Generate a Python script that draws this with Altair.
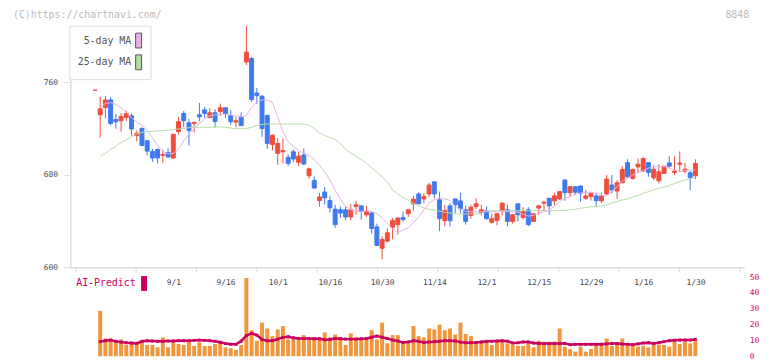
import json
import altair as alt
import pandas as pd

# ---------------- data ----------------
OPEN = [753, 731.8, 738.0, 744.6, 727.7, 726.6, 729.4, 730.9, 713.8, 720.0,
        709.3, 700.1, 701.8, 696.7, 699.2, 694.4, 717.2, 732.9, 724.9, 724.3,
        731.8, 736.0, 729.4, 733.5, 734.6, 737.8, 730.9, 725.5, 730.0, 777.4,
        780.5, 750.6, 747.8, 731.2, 706.1, 698.4, 699.8, 695.0, 699.8, 690.7,
        697.0, 679.0, 675.0, 657.6, 665.0, 657.6, 650.2, 649.6, 649.6, 643.4,
        652.4, 653.0, 645.3, 646.8, 634.8, 616.3, 622.5, 634.5, 636.8, 643.0,
        646.2, 654.8, 663.3, 659.0, 663.3, 673.8, 658.2, 640.2, 653.0, 659.0,
        657.3, 649.6, 644.7, 652.4, 647.3, 648.8, 638.8, 640.5, 648.8, 649.6,
        639.6, 654.8, 643.0, 649.6, 639.6, 651.1, 655.4, 659.6, 657.3, 659.0,
        675.3, 664.4, 669.6, 670.2, 659.6, 661.0, 661.6, 657.3, 663.3, 671.0,
        665.9, 673.0, 690.4, 676.7, 686.7, 683.2, 690.4, 677.3, 674.7, 681.0,
        690.1, 681.9, 689.0, 683.0, 681.6, 679.0]
HIGH = [753, 747.4, 748.0, 747.2, 732.6, 733.2, 735.2, 732.9, 718.1, 720.9,
        710.1, 702.4, 702.7, 701.6, 702.9, 715.2, 730.0, 735.2, 728.1, 726.0,
        742.0, 738.6, 737.5, 736.6, 741.4, 738.6, 735.8, 730.0, 733.8, 808.8,
        782.0, 754.9, 748.9, 732.0, 714.7, 711.2, 711.2, 697.5, 701.8, 699.8,
        702.7, 686.2, 678.5, 664.2, 669.3, 661.3, 653.9, 652.4, 652.4, 654.8,
        657.3, 653.0, 653.0, 648.2, 637.6, 626.8, 633.4, 642.5, 643.0, 648.2,
        649.6, 661.6, 664.8, 663.9, 673.0, 673.8, 665.3, 653.9, 655.4, 659.0,
        664.4, 653.0, 653.9, 659.6, 653.9, 652.4, 646.2, 646.2, 655.9, 653.9,
        645.3, 654.8, 651.9, 651.9, 646.8, 653.9, 657.3, 659.6, 664.4, 665.3,
        676.2, 670.2, 669.6, 670.2, 666.7, 665.3, 663.9, 663.9, 679.6, 679.6,
        675.3, 687.3, 693.3, 685.3, 693.9, 695.2, 690.4, 688.1, 689.0, 687.3,
        695.8, 695.8, 700.1, 690.1, 683.2, 693.3]
LOW = [753, 712.1, 728.6, 722.4, 719.8, 717.2, 726.6, 713.8, 708.9, 704.4,
       696.7, 690.9, 689.6, 690.1, 695.2, 693.5, 714.7, 720.9, 705.2, 716.6,
       726.0, 728.9, 728.9, 720.9, 730.9, 728.9, 723.2, 720.9, 722.4, 774.8,
       742.6, 741.2, 712.7, 702.1, 701.2, 688.4, 689.8, 687.6, 690.7, 687.6,
       688.4, 676.4, 668.4, 652.2, 654.2, 647.1, 634.0, 642.5, 640.5, 640.5,
       645.3, 641.1, 643.4, 629.1, 618.8, 606.8, 621.4, 624.0, 628.2, 639.6,
       643.4, 648.8, 654.8, 655.4, 660.5, 659.6, 631.1, 635.3, 635.3, 646.8,
       646.8, 636.8, 641.9, 650.2, 644.7, 641.1, 637.6, 636.2, 644.7, 635.3,
       637.6, 639.6, 641.1, 635.3, 639.6, 645.3, 648.2, 645.3, 653.0, 658.2,
       657.3, 661.0, 662.5, 656.7, 658.2, 657.6, 653.0, 655.4, 662.5, 663.9,
       659.0, 672.5, 676.7, 675.9, 681.9, 682.4, 678.1, 675.3, 672.5, 681.0,
       686.2, 679.6, 682.4, 681.0, 666.7, 675.9]
CLOSE = [753, 736.9, 744.6, 724.3, 725.8, 730.3, 732.9, 719.5, 715.8, 705.2,
         700.4, 694.4, 694.4, 697.5, 695.2, 714.9, 725.8, 726.6, 718.1, 725.2,
         730.0, 732.9, 733.5, 726.0, 737.8, 732.9, 725.8, 726.6, 722.4, 785.9,
         744.9, 748.3, 719.8, 707.0, 714.1, 707.0, 701.0, 689.8, 693.5, 696.1,
         689.2, 685.0, 668.4, 660.7, 659.9, 651.3, 636.8, 646.8, 643.4, 649.6,
         653.9, 648.2, 648.2, 633.4, 618.8, 624.0, 629.7, 640.2, 642.5, 641.1,
         649.6, 658.8, 654.8, 661.0, 671.0, 663.3, 641.9, 649.0, 640.2, 653.9,
         650.5, 639.6, 651.9, 654.8, 649.6, 641.9, 641.9, 646.2, 655.4, 639.6,
         645.3, 645.3, 648.2, 636.8, 646.2, 653.0, 656.2, 653.0, 661.6, 665.3,
         664.4, 669.6, 664.8, 663.9, 661.6, 663.9, 657.6, 661.6, 676.2, 666.7,
         673.0, 684.5, 678.1, 684.5, 689.0, 693.9, 681.9, 684.7, 682.4, 687.3,
         687.3, 683.0, 690.1, 684.7, 677.3, 689.6]
MA5 = [None, 738.0, 741.6, 742.3, 740.9, 737.8, 733.7, 729.2, 725.3, 722.4,
       718.5, 712.1, 705.2, 700.1, 698.1, 698.4, 701.8, 709.1, 715.1, 719.8,
       724.1, 728.3, 730.9, 731.8, 732.2, 732.2, 731.8, 730.9, 730.0, 731.2,
       738.2, 742.9, 744.6, 744.4, 742.5, 730.0, 717.2, 708.7, 704.4, 701.0,
       698.8, 696.7, 693.3, 688.1, 682.6, 675.3, 666.7, 659.0, 652.6, 649.6,
       648.3, 648.3, 648.5, 648.3, 646.2, 642.4, 637.6, 633.4, 629.9, 632.1,
       634.2, 638.5, 643.2, 649.6, 655.2, 658.6, 659.6, 659.0, 657.8, 652.6,
       650.1, 648.3, 647.9, 647.9, 647.9, 647.9, 647.9, 647.9, 647.9, 647.9,
       647.9, 647.5, 645.8, 644.1, 644.9, 646.8, 647.9, 649.2, 653.0, 656.5,
       659.5, 661.0, 662.9, 664.2, 664.6, 664.6, 664.2, 662.0, 661.6, 665.9,
       669.3, 674.4, 677.0, 679.6, 681.7, 683.4, 685.6, 686.7, 687.1, 687.1,
       685.6, 683.9, 683.0, 683.6, 683.9, 684.3]
MA25 = [None, 696.1, 698.4, 701.8, 704.4, 707.8, 709.9, 712.9, 715.1, 716.6,
        717.2, 717.5, 717.8, 718.1, 718.5, 718.9, 719.5, 720.0, 720.6, 720.9,
        721.0, 721.0, 721.0, 721.2, 721.2, 721.0, 720.2, 719.8, 719.8, 719.8,
        721.0, 722.8, 723.4, 723.8, 723.8, 723.8, 723.8, 723.8, 723.8, 723.8,
        723.8, 722.8, 719.8, 716.0, 713.8, 712.1, 710.4, 707.0, 701.8, 698.8,
        695.8, 693.3, 689.8, 686.0, 682.1, 677.9, 673.6, 666.7, 663.3, 660.3,
        657.8, 655.2, 653.0, 651.3, 650.1, 649.2, 648.3, 647.5, 646.8, 646.4,
        646.0, 646.0, 646.0, 646.0, 646.5, 648.8, 648.8, 648.8, 648.8, 648.8,
        648.8, 648.8, 648.8, 648.8, 648.8, 648.8, 648.8, 648.8, 648.8, 649.0,
        649.2, 649.4, 650.1, 650.9, 651.6, 652.2, 652.4, 653.0, 653.9, 655.4,
        656.9, 658.2, 659.0, 660.7, 662.0, 663.7, 665.3, 666.7, 668.2, 669.3,
        670.6, 672.3, 674.0, 675.3, 676.6, 677.6]
VOLUME = [None, 28.7, 11.2, 11.0, 9.8, 10.6, 7.1, 7.7, 7.7, 9.8,
          7.1, 7.1, 5.6, 11.9, 5.6, 9.8, 7.7, 7.1, 9.2, 6.5,
          8.7, 6.5, 6.5, 7.7, 8.7, 5.6, 5.0, 4.0, 7.1, 49.4,
          16.4, 9.8, 21.2, 17.5, 12.7, 16.9, 19.0, 10.6, 11.9, 10.6,
          13.3, 10.6, 11.9, 11.9, 15.0, 11.9, 13.7, 11.9, 7.1, 14.4,
          11.9, 10.6, 10.6, 16.4, 10.6, 21.2, 8.1, 13.3, 13.3, 8.1,
          8.1, 19.0, 12.7, 11.9, 17.5, 16.9, 20.0, 16.4, 17.5, 13.7,
          21.2, 14.0, 12.7, 9.6, 9.2, 9.2, 7.1, 9.2, 9.2, 8.1,
          7.1, 6.5, 6.5, 8.1, 5.6, 9.8, 8.1, 8.1, 9.2, 17.5,
          6.0, 4.4, 2.9, 6.0, 2.9, 4.6, 7.1, 8.5, 11.2, 6.5,
          8.5, 11.2, 6.5, 6.5, 6.0, 6.5, 5.6, 8.1, 7.1, 7.1,
          6.0, 9.2, 7.7, 9.2, 8.1, 9.6]
AI_PREDICT = [None, 9.2, 9.8, 10.2, 9.4, 8.9, 8.5, 8.3, 8.1, 9.4,
              9.8, 9.6, 9.4, 9.4, 9.6, 9.6, 9.8, 9.8, 9.8, 10.0,
              10.2, 10.0, 9.8, 9.4, 8.8, 8.0, 7.6, 7.5, 9.5, 13.0,
              14.4, 13.3, 10.5, 9.8, 9.8, 10.8, 11.9, 12.3, 11.6, 11.2,
              11.2, 11.2, 11.0, 11.0, 10.4, 10.6, 11.2, 11.0, 10.8, 10.8,
              10.8, 11.0, 11.2, 12.0, 12.7, 12.0, 11.2, 10.2, 9.6, 8.7,
              9.0, 9.8, 9.4, 8.7, 9.0, 9.2, 9.5, 9.8, 9.8, 9.6,
              8.9, 8.5, 8.5, 8.7, 9.0, 9.4, 9.4, 9.6, 9.8, 9.5,
              8.3, 8.5, 9.0, 9.0, 8.3, 8.1, 8.1, 8.1, 8.1, 8.1,
              8.1, 7.3, 7.5, 7.5, 7.5, 7.5, 7.5, 7.5, 7.8, 8.1,
              8.0, 7.7, 7.5, 7.3, 7.8, 8.3, 8.5, 8.1, 8.5, 9.2,
              9.8, 10.1, 10.2, 10.2, 10.2, 10.6]
LABEL_INDEX = [15, 25, 35, 45, 55, 65, 75, 85, 95, 105, 115]
LABEL_TEXT = ["9/1", "9/16", "10/1", "10/16", "10/30", "11/14",
              "12/1", "12/15", "12/29", "1/16", "1/30"]
TICK_POS = [-3.77, 7.79, 19.35, 30.91, 42.47, 54.03, 65.59, 77.16,
            88.72, 100.28, 111.84, 123.40]
PRICE_TICKS = [600, 680, 760]
VOL_TICKS = [0, 10, 20, 30, 40, 50]
MA_NAMES = ["5-day MA", "25-day MA"]
AI_NAME = ["AI-Predict"]
WATERMARK = ["(C)https://chartnavi.com/"]
CODE = ["8848"]

# ---------------- styling ----------------
MONO = "DejaVu Sans Mono"
RED, BLUE = "#ee4f3c", "#3f7aee"
PINK, GREEN = "#e6b2e6", "#b6dca8"
ORANGE, CRIMSON = "#f0963c", "#cc0060"
GRID, LABEL = "#dddddd", "#444444"

n = len(CLOSE)
df = pd.DataFrame({
    "i": list(range(n)), "open": OPEN, "high": HIGH, "low": LOW, "close": CLOSE,
    "ma5": MA5, "ma25": MA25, "volume": VOLUME, "ai": AI_PREDICT,
})

xscale = alt.Scale(domain=[TICK_POS[0], TICK_POS[-1]], nice=False, zero=False)
pscale = alt.Scale(domain=[600, 808.8], nice=False, zero=False)
vscale = alt.Scale(domain=[0, 50], nice=False)

idx_js = json.dumps(LABEL_INDEX)
label_expr = (f"indexof({idx_js}, datum.value) >= 0 ? "
              f"{json.dumps(LABEL_TEXT)}[indexof({idx_js}, datum.value)] : ''")

x_axis = alt.Axis(
    values=TICK_POS + LABEL_INDEX, labelExpr=label_expr, title=None, grid=False,
    domainColor=GRID, domainWidth=1.5, tickColor=GRID, tickSize=5,
    tickOpacity={"condition": {"test": f"indexof({idx_js}, datum.value) >= 0", "value": 0}, "value": 1},
    labelFont=MONO, labelFontSize=8, labelColor=LABEL, labelPadding=7,
    labelOverlap=False, labelFlush=False, labelBound=False,
)
y_axis = alt.Axis(
    values=PRICE_TICKS, title=None, grid=False, domainColor=GRID, domainWidth=1.5,
    tickColor=GRID, tickSize=7, labelFont=MONO, labelFontSize=8, labelColor=LABEL,
    labelPadding=6,
)
v_axis = alt.Axis(
    orient="right", values=VOL_TICKS, title=None, grid=False, domain=False,
    ticks=False, labelFont=MONO, labelFontSize=8, labelColor=CRIMSON, labelPadding=5,
)

base = alt.Chart(df)
X_TOP = alt.X("i:Q", scale=xscale, axis=x_axis)
dir_color = alt.condition("datum.close >= datum.open", alt.value(RED), alt.value(BLUE))

wicks = base.mark_rule(strokeWidth=1).encode(
    x=X_TOP,
    y=alt.Y("low:Q", scale=pscale, axis=y_axis),
    y2="high:Q",
    color=dir_color,
)
bodies = base.mark_bar(size=4, strokeWidth=1).encode(
    x=X_TOP,
    y=alt.Y("open:Q", scale=pscale, axis=y_axis),
    y2="close:Q",
    color=dir_color,
    stroke=dir_color,
)
ma5_line = base.mark_line(strokeWidth=1, color=PINK).encode(
    x=X_TOP, y=alt.Y("ma5:Q", scale=pscale, axis=y_axis))
ma25_line = base.mark_line(strokeWidth=1, color=GREEN).encode(
    x=X_TOP, y=alt.Y("ma25:Q", scale=pscale, axis=y_axis))

# tall thin rectangle (custom symbol paths live in a -1..1 box)
RECT_PATH = "M-0.4,-1H0.4V1H-0.4Z"
ma_scale = alt.Scale(domain=MA_NAMES, range=[PINK, GREEN])
ma_legend = alt.Chart(pd.DataFrame({"series": MA_NAMES})).mark_square(
    filled=True, stroke="#555555", strokeWidth=1, clip=True, size=1, opacity=1
).encode(
    x=alt.value(-500), y=alt.value(-500),
    color=alt.Color("series:N", scale=ma_scale, legend=alt.Legend(
        title=None, orient="none", legendX=-1, legendY=0, direction="vertical",
        symbolType=RECT_PATH, symbolSize=225, symbolStrokeWidth=1, symbolOpacity=1,
        symbolOffset=55, labelFont=MONO, labelFontSize=10, labelColor="#555555",
        labelAlign="right", labelOffset={"expr": "-15.5"}, padding=7, rowPadding=2,
        strokeColor=GRID, fillColor="white",
    )),
)
wm = alt.Chart(pd.DataFrame({"t": WATERMARK})).mark_text(
    align="left", baseline="middle", font=MONO, fontSize=10, color="#bbbbbb"
).encode(x=alt.value(-58), y=alt.value(-11), text="t:N")
code = alt.Chart(pd.DataFrame({"t": CODE})).mark_text(
    align="left", baseline="middle", font=MONO, fontSize=10, color="#bbbbbb"
).encode(x=alt.value(662), y=alt.value(-11), text="t:N")

top = alt.layer(wicks, bodies, ma25_line, ma5_line, ma_legend, wm, code).properties(
    width=681, height=244)

X_BOT = alt.X("i:Q", scale=xscale, axis=None)
vol = base.mark_bar(size=4, color=ORANGE).encode(
    x=X_BOT,
    y=alt.Y("volume:Q", scale=vscale, axis=v_axis),
)
ai = base.mark_line(strokeWidth=2.5, color=CRIMSON,
                    point=alt.OverlayMarkDef(shape="square", size=9, filled=True, color=CRIMSON, opacity=1)).encode(
    x=X_BOT,
    y=alt.Y("ai:Q", scale=vscale, axis=v_axis),
)
ai_scale = alt.Scale(domain=AI_NAME, range=[CRIMSON])
ai_legend = alt.Chart(pd.DataFrame({"series": AI_NAME})).mark_square(
    filled=True, clip=True, size=1, opacity=1
).encode(
    x=alt.value(-500), y=alt.value(-500),
    color=alt.Color("series:N", scale=ai_scale, legend=alt.Legend(
        title=None, orient="none", legendX=4, legendY=-1,
        symbolType=RECT_PATH, symbolSize=225, symbolStrokeWidth=0, symbolOpacity=1,
        symbolOffset=63, labelFont=MONO, labelFontSize=10, labelColor=CRIMSON,
        labelAlign="right", labelOffset={"expr": "-16"}, padding=0,
    )),
)
bottom = alt.layer(vol, ai, ai_legend).properties(width=681, height=80)

chart = alt.vconcat(top, bottom, spacing=10, bounds="flush").resolve_scale(
    color="independent", x="independent", y="independent"
).resolve_legend(color="independent").configure_view(stroke=None).properties(
    padding={"left": 5, "top": 0, "right": 5, "bottom": 5}, background="white"
)

chart.save("out.html", embed_options={"renderer": "svg", "actions": False})
